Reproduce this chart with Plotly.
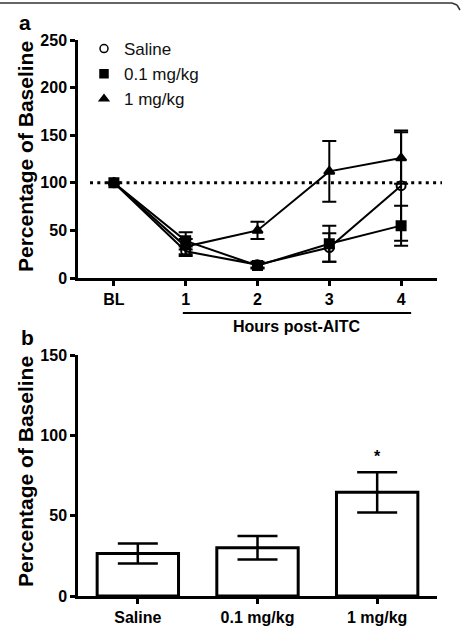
import plotly.graph_objects as go

# ---------------- data ----------------
time_labels = ["BL", "1", "2", "3", "4"]
time_x = [0, 1, 2, 3, 4]

saline_vals = [100, 28, 14, 32, 97]
saline_err = [0, 5, 3, 15, 58]
low_vals = [100, 39, 13, 36, 55]
low_err = [0, 9, 3, 19, 21]
high_vals = [100, 33, 50, 112, 126]
high_err = [0, 8, 9, 32, 27]

group_names = ["Saline", "0.1 mg/kg", "1 mg/kg"]
bar_vals = [26.5, 30, 64.5]
bar_err = [6.2, 7.3, 12.6]

W, H = 461, 627
FONT = "Liberation Sans, Arial, sans-serif"


def px(x):
    return x / W


def py(y):
    return 1 - y / H


fig = go.Figure()

series = [
    ("Saline", saline_vals, saline_err, "circle-open"),
    ("0.1 mg/kg", low_vals, low_err, "square"),
    ("1 mg/kg", high_vals, high_err, "triangle-up"),
]
for name, vals, err, sym in series:
    fig.add_trace(go.Scatter(
        x=time_x, y=vals, mode="lines+markers", name=name, showlegend=False,
        line=dict(color="black", width=2),
        marker=dict(symbol=sym, size=9, color="black", line=dict(color="black", width=2)),
        error_y=dict(type="data", array=err, visible=True, color="black", thickness=2, width=7),
        xaxis="x", yaxis="y", cliponaxis=False,
    ))
for name, vals, err, sym in series:
    fig.add_trace(go.Scatter(
        x=[None], y=[None], mode="markers", name=name, showlegend=True,
        marker=dict(symbol=sym, size=8, color="black", line=dict(color="black", width=1.5)),
        xaxis="x", yaxis="y",
    ))

fig.add_trace(go.Bar(
    x=[0, 1, 2], y=bar_vals, width=0.68, showlegend=False,
    marker=dict(color="white", line=dict(color="black", width=3)),
    error_y=dict(type="data", array=bar_err, visible=True, color="black", thickness=2.5, width=20),
    xaxis="x2", yaxis="y2",
))

axis_common = dict(
    showline=True, linecolor="black", linewidth=2.5,
    ticks="outside", ticklen=5, tickwidth=2.5, tickcolor="black",
    showgrid=False, zeroline=False, automargin=False,
    tickfont=dict(family=FONT, size=16, color="black", weight="bold"),
)

fig.update_layout(
    template="none",
    width=W, height=H,
    margin=dict(l=0, r=0, t=0, b=0, pad=0),
    paper_bgcolor="white", plot_bgcolor="white",
    xaxis=dict(domain=[px(78), px(437)], range=[-0.5, 4.5],
               tickvals=time_x, ticktext=time_labels, anchor="y", **axis_common),
    yaxis=dict(domain=[py(278), py(40)], range=[0, 250],
               tickvals=[0, 50, 100, 150, 200, 250], anchor="x", **axis_common),
    xaxis2=dict(domain=[px(78), px(437)], range=[-0.5, 2.5],
                tickvals=[0, 1, 2], ticktext=group_names, anchor="y2", **axis_common),
    yaxis2=dict(domain=[py(596), py(355)], range=[0, 150],
                tickvals=[0, 50, 100, 150], anchor="x2", **axis_common),
    legend=dict(x=px(84), y=py(31), xanchor="left", yanchor="top",
                font=dict(family=FONT, size=17, color="#111111"),
                itemwidth=30, tracegroupgap=0, bgcolor="rgba(0,0,0,0)", borderwidth=0),
    showlegend=True,
)

# dotted reference line at 100%
fig.add_shape(type="line", xref="paper", yref="y", x0=px(90), x1=px(442), y0=100, y1=100,
              line=dict(color="black", width=3, dash="3px,4.3px"))
# "Hours post-AITC" bracket line
fig.add_shape(type="line", xref="x", yref="paper", x0=0.96, x1=4.14, y0=py(313), y1=py(313),
              line=dict(color="black", width=2))
# frame line at the top, with its rounded corner
fig.add_shape(type="line", xref="paper", yref="paper", x0=px(0), x1=px(452), y0=py(3), y1=py(3),
              line=dict(color="#333333", width=1.5))
fig.add_shape(type="line", xref="paper", yref="paper", x0=px(452), x1=px(457), y0=py(3), y1=py(5),
              line=dict(color="#333333", width=1.5))
fig.add_shape(type="line", xref="paper", yref="paper", x0=px(457), x1=px(460), y0=py(5), y1=py(10),
              line=dict(color="#333333", width=1.5))

ann_font = dict(family=FONT, size=16, color="black", weight="bold")
fig.add_annotation(x=2.55, xref="x", y=py(326), yref="paper", text="Hours post-AITC",
                   showarrow=False, font=ann_font, xanchor="center", yanchor="middle")
fig.add_annotation(x=2, xref="x2", y=87, yref="y2", text="*", showarrow=False, font=ann_font,
                   xanchor="center", yanchor="middle")

title_font = dict(family=FONT, size=21, color="black", weight="bold")
for ycen in (157, 472):
    fig.add_annotation(x=px(25), xref="paper", y=py(ycen), yref="paper",
                       text="Percentage of Baseline", textangle=-90, showarrow=False,
                       font=title_font, xanchor="center", yanchor="middle")
fig.add_annotation(x=px(25), xref="paper", y=py(22), yref="paper", text="a",
                   showarrow=False, font=title_font, xanchor="center", yanchor="middle")
fig.add_annotation(x=px(27), xref="paper", y=py(337), yref="paper", text="b",
                   showarrow=False, font=title_font, xanchor="center", yanchor="middle")

fig.write_html("out.html")
